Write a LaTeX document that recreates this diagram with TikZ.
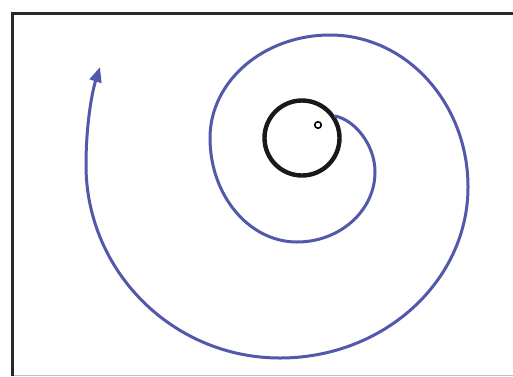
\documentclass[tikz,border=0pt]{standalone}
\usetikzlibrary{arrows.meta}
\definecolor{spiralblue}{RGB}{82,88,170}
\definecolor{framegray}{RGB}{40,40,40}
\tikzset{
  spiral/.style={draw=spiralblue, line width=3pt, line cap=round, -{Triangle[length=15pt,width=12pt]}},
  framelineA/.style={draw=framegray, line width=3pt},
  framelineB/.style={draw=black!25, line width=1pt},
  ring/.style={draw=black!90, line width=4.4pt},
  dot/.style={draw=black, line width=1.6pt}
}
\begin{document}
\begin{tikzpicture}[x=1pt,y=-1pt]
\useasboundingbox (0,0) rectangle (513,376);
\fill[white] (0,0) rectangle (513,376);
\coordinate (tl) at (12,13);
\coordinate (bl) at (12,376);
\coordinate (tr) at (513,13);
\coordinate (br) at (513,375);
\coordinate (bll) at (12,375);
\draw[framelineB] (bll) -- (br);
\draw[framelineA] (bl) -- (tl) -- (tr);
\node[ring, circle, minimum size=75pt, inner sep=0pt] (sun) at (302,138) {};
\node[dot, circle, minimum size=6.5pt, inner sep=0pt] (spot) at (318,125) {};
\coordinate (A) at (335,116);
\coordinate (R1) at (375,172);
\coordinate (B1) at (297,242);
\coordinate (L1) at (210,138);
\coordinate (T1) at (330,35);
\coordinate (R2) at (468,187);
\coordinate (B2) at (280,358);
\coordinate (L2) at (86,165);
\coordinate (E) at (100,67);
\draw[spiral] (A) .. controls (355,120) and (375,145) .. (R1)
  .. controls (375,210.6) and (340,242) .. (B1)
  .. controls (249,242) and (210,195.4) .. (L1)
  .. controls (210,81) and (264,35) .. (T1)
  .. controls (406,35) and (468,103) .. (R2)
  .. controls (468,281) and (384,358) .. (B2)
  .. controls (173,358) and (86,271.5) .. (L2)
  .. controls (86,125) and (92,92) .. (E);
\end{tikzpicture}
\end{document}
